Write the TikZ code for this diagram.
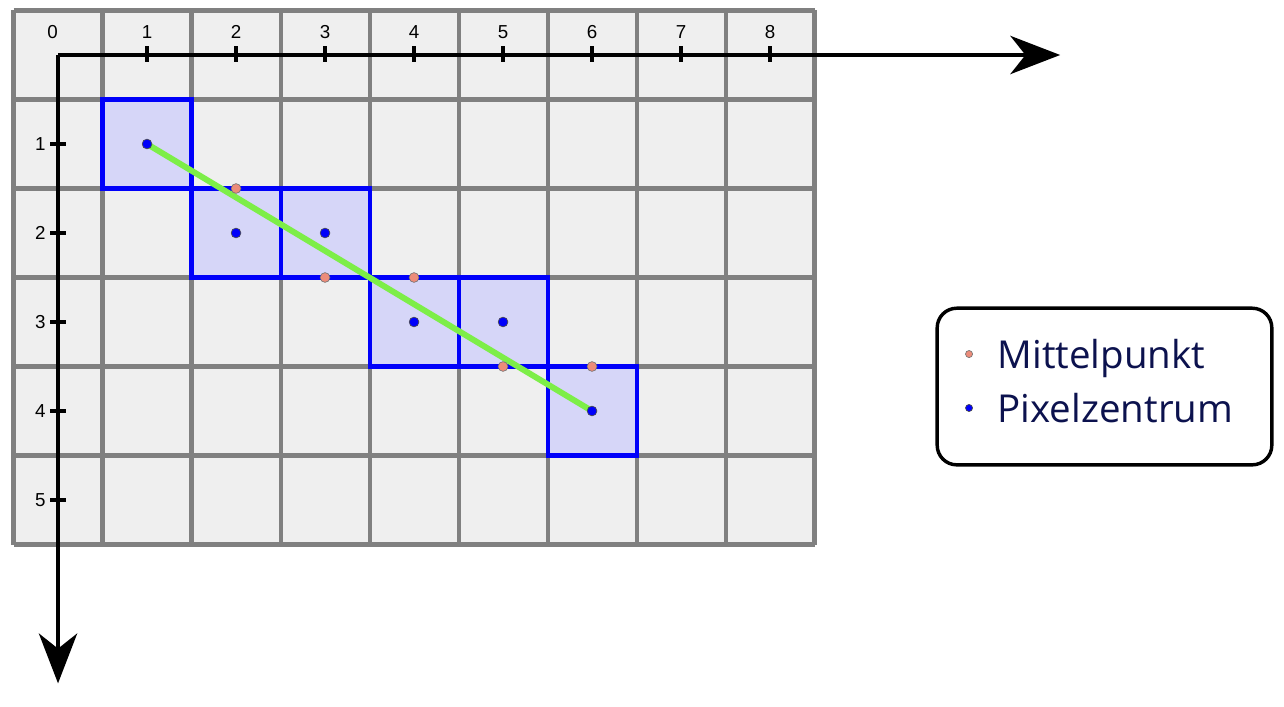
\documentclass[tikz,border=0pt]{standalone}
\usepackage{fontspec}
\setmainfont{Open Sans}
\newfontfamily\tickfont{Liberation Sans}
\usetikzlibrary{arrows.meta}
\definecolor{gridgray}{RGB}{128,128,128}
\definecolor{cellgray}{RGB}{239,239,239}
\definecolor{pxblue}{RGB}{0,0,250}
\definecolor{pxfill}{RGB}{214,214,248}
\definecolor{lngreen}{RGB}{125,238,72}
\definecolor{midorange}{RGB}{236,140,122}
\definecolor{legnavy}{RGB}{12,18,78}

\begin{document}
\begin{tikzpicture}[x=1cm, y=-1cm,
  pixel/.style={rectangle, draw=pxblue, fill=pxfill, line width=1.3pt,
                minimum size=1cm, inner sep=0pt},
  axis/.style={-{Stealth[length=5.6mm, width=4.3mm, inset=1.7mm]}, line width=1.25pt},
  tickmark/.style={line width=1.25pt},
  numlbl/.style={font=\tickfont\fontsize{6}{7}\selectfont, inner sep=0pt},
  pxdot/.style={circle, fill=pxblue, draw=black!70, line width=0.2pt,
                inner sep=0pt, minimum size=0.11cm},
  middot/.style={circle, fill=midorange, draw=black!55, line width=0.2pt,
                 inner sep=0pt, minimum size=0.11cm},
  legtext/.style={font=\fontsize{12.3}{14}\selectfont, text=legnavy, anchor=base west, inner sep=0pt}]
  \useasboundingbox (-0.652,-0.618) rectangle (13.775,7.315);

  % raster
  \fill[cellgray] (-0.5,-0.5) rectangle (8.5,5.5);
  \draw[gridgray, line width=1.3pt, shift={(-0.5,-0.5)}] (0,0) grid (9,6);

  % set pixels
  \node[pixel] (p11) at (1,1) {};
  \node[pixel] (p22) at (2,2) {};
  \node[pixel] (p32) at (3,2) {};
  \node[pixel] (p43) at (4,3) {};
  \node[pixel] (p53) at (5,3) {};
  \node[pixel] (p64) at (6,4) {};

  % axes
  \coordinate (O) at (0,0);
  \coordinate (xend) at (11.26,0);
  \coordinate (yend) at (0,7.06);
  \draw[axis] (O) -- (xend);
  \draw[axis] (O) -- (yend);

  % x ticks
  \node[numlbl] (x0) at (-0.06,-0.26) {0};
  \draw[tickmark] (1,-0.1) -- (1,0.08); \node[numlbl] (x1) at (1,-0.26) {1};
  \draw[tickmark] (2,-0.1) -- (2,0.08); \node[numlbl] (x2) at (2,-0.26) {2};
  \draw[tickmark] (3,-0.1) -- (3,0.08); \node[numlbl] (x3) at (3,-0.26) {3};
  \draw[tickmark] (4,-0.1) -- (4,0.08); \node[numlbl] (x4) at (4,-0.26) {4};
  \draw[tickmark] (5,-0.1) -- (5,0.08); \node[numlbl] (x5) at (5,-0.26) {5};
  \draw[tickmark] (6,-0.1) -- (6,0.08); \node[numlbl] (x6) at (6,-0.26) {6};
  \draw[tickmark] (7,-0.1) -- (7,0.08); \node[numlbl] (x7) at (7,-0.26) {7};
  \draw[tickmark] (8,-0.1) -- (8,0.08); \node[numlbl] (x8) at (8,-0.26) {8};

  % y ticks
  \draw[tickmark] (-0.09,1) -- (0.09,1); \node[numlbl] (y1) at (-0.2,1) {1};
  \draw[tickmark] (-0.09,2) -- (0.09,2); \node[numlbl] (y2) at (-0.2,2) {2};
  \draw[tickmark] (-0.09,3) -- (0.09,3); \node[numlbl] (y3) at (-0.2,3) {3};
  \draw[tickmark] (-0.09,4) -- (0.09,4); \node[numlbl] (y4) at (-0.2,4) {4};
  \draw[tickmark] (-0.09,5) -- (0.09,5); \node[numlbl] (y5) at (-0.2,5) {5};

  % ideal line
  \draw[lngreen, line width=1.9pt] (p11.center) -- (p64.center);

  % midpoints
  \node[middot] (m1) at (2,1.5) {};
  \node[middot] (m2) at (3,2.5) {};
  \node[middot] (m3) at (4,2.5) {};
  \node[middot] (m4) at (5,3.5) {};
  \node[middot] (m5) at (6,3.5) {};

  % pixel centres
  \node[pxdot] (c1) at (p11.center) {};
  \node[pxdot] (c2) at (p22.center) {};
  \node[pxdot] (c3) at (p32.center) {};
  \node[pxdot] (c4) at (p43.center) {};
  \node[pxdot] (c5) at (p53.center) {};
  \node[pxdot] (c6) at (p64.center) {};

  % legend
  \node[draw, line width=1.1pt, rounded corners=0.22cm, fill=white,
        minimum width=3.76cm, minimum height=1.76cm] (legend) at (11.758,3.725) {};
  \node[middot, minimum size=0.08cm] (lm) at (10.236,3.36) {};
  \node[legtext] (lmtext) at (10.55,3.517) {Mittelpunkt};
  \node[pxdot, minimum size=0.08cm] (lp) at (10.236,3.966) {};
  \node[legtext] (lptext) at (10.55,4.124) {Pixelzentrum};
\end{tikzpicture}
\end{document}
